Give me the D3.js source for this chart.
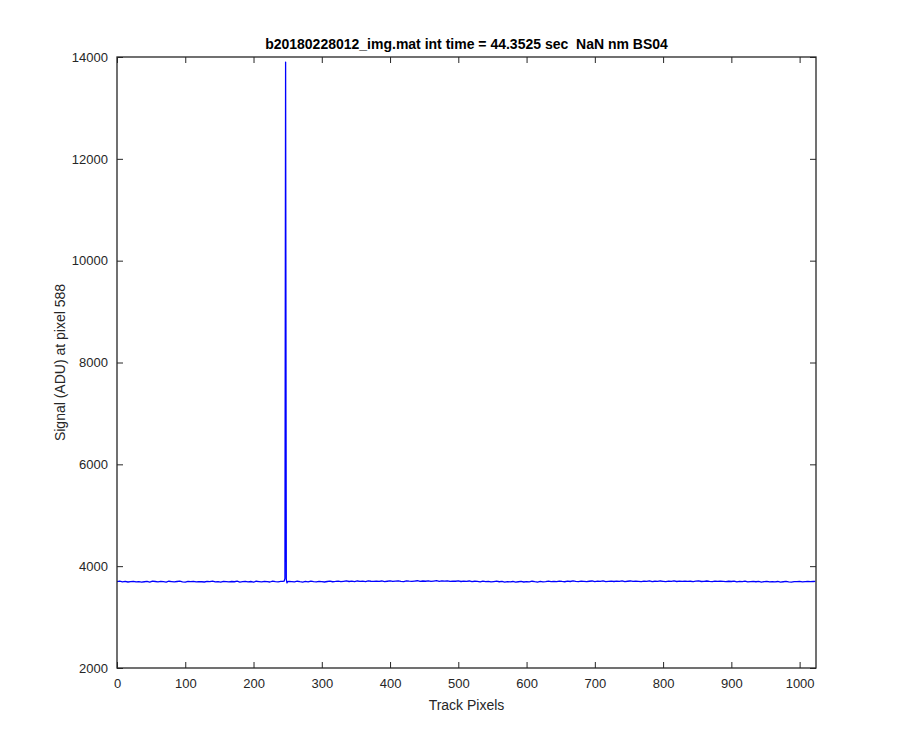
<!DOCTYPE html>
<html>
<head>
<meta charset="utf-8">
<script src="https://cdn.jsdelivr.net/npm/d3@7"></script>
<style>
  html, body { margin: 0; padding: 0; background: #fff; }
  text { font-family: "Liberation Sans", Arial, Helvetica, sans-serif; }
</style>
</head>
<body>
<svg id="chart" width="900" height="750"></svg>
<script>
// ---- data ----
const titleText = "b20180228012_img.mat int time = 44.3525 sec  NaN nm BS04";
const xLabelText = "Track Pixels";
const yLabelText = "Signal (ADU) at pixel 588";
const xTicks = [0, 100, 200, 300, 400, 500, 600, 700, 800, 900, 1000];
const yTicks = [2000, 4000, 6000, 8000, 10000, 12000, 14000];
const xDomain = [0, 1024];
const yDomain = [2000, 14000];
// baseline signal sampled every 4 track pixels (0, 4, ..., 1020)
const baselineStep = 4;
const baseline = [
  3698,3705,3692,3701,3689,3696,3703,3690,3697,3686,3694,3700,3688,3705,3699,3693,
  3702,3695,3688,3704,3697,3691,3699,3706,3693,3687,3700,3696,3703,3690,3698,3694,
  3689,3701,3695,3707,3692,3698,3686,3703,3697,3691,3699,3694,3705,3688,3696,3702,
  3693,3699,3687,3704,3698,3692,3700,3695,3689,3706,3697,3693,3701,3690,3696,3703,
  3698,3691,3704,3695,3688,3700,3693,3707,3696,3690,3702,3697,3689,3699,3705,3694,
  3700,3708,3696,3703,3711,3699,3705,3697,3709,3702,3706,3698,3712,3704,3700,3707,
  3701,3709,3697,3704,3712,3700,3706,3710,3703,3698,3711,3705,3701,3708,3714,3702,
  3709,3704,3712,3700,3707,3715,3703,3710,3706,3713,3701,3708,3704,3711,3699,3706,
  3702,3709,3696,3704,3700,3693,3707,3698,3703,3690,3697,3705,3694,3700,3688,3696,
  3691,3699,3686,3694,3701,3689,3697,3692,3704,3695,3688,3700,3693,3698,3706,3697,
  3703,3696,3708,3700,3694,3705,3699,3710,3702,3697,3707,3701,3695,3704,3709,3698,
  3705,3700,3711,3696,3703,3708,3699,3706,3701,3712,3697,3704,3709,3700,3706,3702,
  3698,3707,3702,3711,3696,3704,3700,3709,3703,3697,3706,3701,3710,3699,3705,3702,
  3708,3700,3704,3697,3706,3711,3699,3703,3709,3701,3696,3705,3700,3707,3702,3698,
  3704,3699,3707,3693,3701,3696,3705,3690,3698,3702,3694,3700,3687,3696,3703,3691,
  3697,3690,3699,3686,3694,3701,3692,3688,3698,3695,3700,3693,3697,3702,3696,3699
];
const lastPoint = [1023, 3701];
// the spike region at full resolution: [track pixel, signal]
const spike = [
  [244, 3704], [245, 3708], [246, 3760], [247, 13900], [248, 3745], [249, 3672], [250, 3698]
];

// ---- layout ----
const margin = { left: 117, right: 84, top: 57, bottom: 82 };
const W = 900, H = 750;
const svg = d3.select("#chart");
const axisColor = "#262626";
const fmt = d3.format("d");

const x = d3.scaleLinear().domain(xDomain).range([margin.left, W - margin.right]);
const y = d3.scaleLinear().domain(yDomain).range([H - margin.bottom, margin.top]);

// build points
const spikeMin = d3.min(spike, d => d[0]), spikeMax = d3.max(spike, d => d[0]);
let points = baseline.map((v, i) => [i * baselineStep, v])
  .filter(p => p[0] < spikeMin || p[0] > spikeMax)
  .concat(spike)
  .concat([lastPoint]);
points.sort((a, b) => a[0] - b[0]);

// line
const line = d3.line().x(d => x(d[0])).y(d => y(d[1]));
svg.append("path")
  .datum(points)
  .attr("fill", "none")
  .attr("stroke", "#0000ff")
  .attr("stroke-width", 1.3)
  .attr("stroke-linejoin", "round")
  .attr("d", line);

// axes
function styleAxis(g) {
  g.select(".domain").remove();
  g.selectAll(".tick line").attr("stroke", axisColor).attr("stroke-width", 1);
  g.selectAll(".tick text").attr("fill", axisColor).style("font-size", "13px");
}
svg.append("g")
  .attr("transform", `translate(0,${y.range()[0]})`)
  .call(d3.axisBottom(x).tickValues(xTicks).tickFormat(fmt).tickSizeInner(-6).tickSizeOuter(0).tickPadding(11))
  .call(styleAxis);
svg.append("g")
  .attr("transform", `translate(0,${y.range()[1]})`)
  .call(d3.axisTop(x).tickValues(xTicks).tickSizeInner(-6).tickSizeOuter(0).tickFormat(""))
  .call(styleAxis);
svg.append("g")
  .attr("transform", `translate(${x.range()[0]},0)`)
  .call(d3.axisLeft(y).tickValues(yTicks).tickFormat(fmt).tickSizeInner(-6).tickSizeOuter(0).tickPadding(9))
  .call(styleAxis);
svg.append("g")
  .attr("transform", `translate(${x.range()[1]},0)`)
  .call(d3.axisRight(y).tickValues(yTicks).tickSizeInner(-6).tickSizeOuter(0).tickFormat(""))
  .call(styleAxis);

// box
svg.append("rect")
  .attr("x", x.range()[0]).attr("y", y.range()[1])
  .attr("width", x.range()[1] - x.range()[0])
  .attr("height", y.range()[0] - y.range()[1])
  .attr("fill", "none").attr("stroke", axisColor).attr("stroke-width", 1.3);

// title and labels
const cx = (x.range()[0] + x.range()[1]) / 2;
const cy = (y.range()[0] + y.range()[1]) / 2;
svg.append("text")
  .attr("x", cx).attr("y", 49)
  .attr("text-anchor", "middle")
  .style("font-size", "14px").style("font-weight", "bold")
  .style("white-space", "pre")
  .attr("fill", "#000")
  .text(titleText);
svg.append("text")
  .attr("x", cx).attr("y", 710)
  .attr("text-anchor", "middle")
  .style("font-size", "14px")
  .attr("fill", axisColor)
  .text(xLabelText);
svg.append("text")
  .attr("transform", `translate(65,${cy}) rotate(-90)`)
  .attr("text-anchor", "middle")
  .style("font-size", "14px")
  .attr("fill", axisColor)
  .text(yLabelText);
</script>
</body>
</html>
